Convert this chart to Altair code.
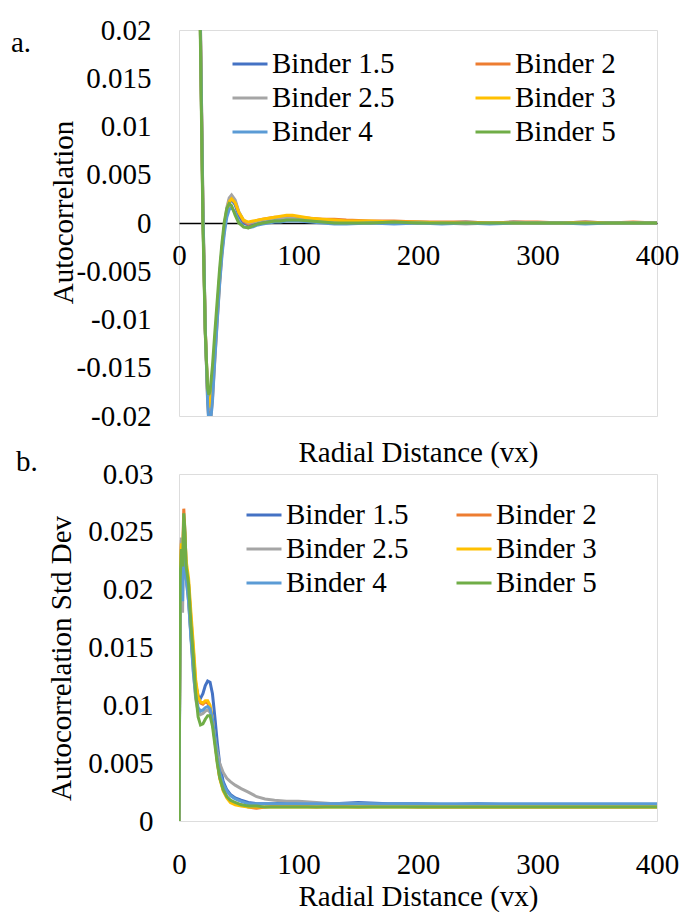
import altair as alt
import pandas as pd

FONT = "'Liberation Serif', 'Times New Roman', Times, 'DejaVu Serif', serif"
FS = 29

series_names = ["Binder 1.5", "Binder 2", "Binder 2.5", "Binder 3", "Binder 4", "Binder 5"]
series_colors = ["#4472C4", "#ED7D31", "#A5A5A5", "#FFC000", "#5B9BD5", "#70AD47"]

# ---------------- panel a: autocorrelation ----------------
x_a = [12, 14, 16, 18, 20, 22, 24, 25, 26, 28, 30, 32, 34, 36, 38, 40, 42, 44, 47, 50,
       54, 58, 62, 66, 70, 75, 80, 85, 90, 95, 100, 110, 120, 130, 140, 160, 180, 200, 220, 240,
       260, 280, 300, 320, 340, 360, 380, 400]

a_b15 = [0.08, 0.056, 0.037, 0.019, 0.001, -0.011, -0.0178, -0.0188, -0.0185, -0.0160, -0.0125, -0.0090, -0.0055, -0.0026, -0.0004, 0.0012, 0.0021, 0.0024, 0.0019, 0.0008,
         0.0000, -0.0002, -0.0001, 0.0001, 0.0002, 0.0003, 0.0004, 0.0004, 0.0005, 0.0005, 0.0005, 0.0004, 0.0003, 0.0002, 0.0002, 0.0001, 0.0001, 0.0001, 0.0000, 0.0001,
         0.0000, 0.0001, 0.0000, 0.0000, 0.0001, 0.0000, 0.0000, 0.0000]
a_b2 = [0.08, 0.057, 0.038, 0.020, 0.002, -0.011, -0.0185, -0.0205, -0.0210, -0.0182, -0.0140, -0.0100, -0.0062, -0.0030, -0.0006, 0.0013, 0.0024, 0.0027, 0.0022, 0.0011,
        0.0002, -0.0001, 0.0001, 0.0003, 0.0004, 0.0005, 0.0006, 0.0006, 0.0007, 0.0006, 0.0006, 0.0005, 0.0004, 0.0004, 0.0003, 0.0002, 0.0002, 0.0001, 0.0001, 0.0001,
        0.0000, 0.0001, 0.0001, 0.0000, 0.0001, 0.0000, 0.0001, 0.0000]
a_b25 = [0.08, 0.056, 0.037, 0.019, 0.001, -0.0115, -0.0180, -0.0193, -0.0192, -0.0168, -0.0130, -0.0093, -0.0057, -0.0027, -0.0003, 0.0016, 0.0026, 0.0029, 0.0024, 0.0012,
         0.0003, 0.0000, 0.0001, 0.0002, 0.0003, 0.0004, 0.0005, 0.0005, 0.0005, 0.0005, 0.0004, 0.0003, 0.0002, 0.0001, 0.0000, 0.0001, 0.0000, 0.0000, 0.0000, -0.0001,
         0.0000, 0.0000, 0.0000, 0.0000, 0.0000, 0.0000, 0.0000, 0.0000]
a_b3 = [0.08, 0.056, 0.037, 0.019, 0.001, -0.011, -0.0178, -0.0190, -0.0190, -0.0165, -0.0128, -0.0092, -0.0057, -0.0027, -0.0004, 0.0013, 0.0022, 0.0025, 0.0021, 0.0011,
        0.0003, 0.0001, 0.0002, 0.0003, 0.0004, 0.0005, 0.0006, 0.0007, 0.0008, 0.0008, 0.0007, 0.0005, 0.0004, 0.0003, 0.0002, 0.0002, 0.0001, 0.0001, 0.0000, 0.0000,
        0.0000, 0.0000, 0.0000, 0.0000, 0.0000, 0.0000, 0.0000, 0.0000]
a_b4 = [0.08, 0.057, 0.038, 0.020, 0.002, -0.011, -0.0188, -0.0208, -0.0212, -0.0185, -0.0142, -0.0102, -0.0064, -0.0033, -0.0010, 0.0006, 0.0014, 0.0016, 0.0011, 0.0002,
        -0.0004, -0.0005, -0.0004, -0.0002, -0.0001, 0.0000, 0.0001, 0.0001, 0.0002, 0.0002, 0.0002, 0.0001, 0.0000, -0.0001, -0.0001, 0.0000, -0.0001, 0.0000, -0.0001, 0.0000,
        -0.0001, 0.0000, 0.0000, 0.0000, -0.0001, 0.0000, 0.0000, 0.0000]
a_b5 = [0.08, 0.055, 0.036, 0.018, 0.000, -0.0115, -0.0172, -0.0178, -0.0174, -0.0148, -0.0113, -0.0080, -0.0047, -0.0020, 0.0002, 0.0015, 0.0020, 0.0018, 0.0008, 0.0000,
        -0.0004, -0.0005, -0.0003, -0.0001, 0.0000, 0.0001, 0.0002, 0.0002, 0.0003, 0.0003, 0.0003, 0.0002, 0.0001, 0.0000, 0.0000, 0.0000, 0.0001, 0.0000, 0.0000, 0.0000,
        0.0000, 0.0000, 0.0000, 0.0000, 0.0000, 0.0000, 0.0000, 0.0000]

# ---------------- panel b: autocorrelation std dev ----------------
x_b = [0, 1, 2, 3, 4, 5, 6, 8, 10, 12, 14, 16, 18, 20, 22, 24, 26, 28, 30, 32,
       34, 37, 40, 43, 47, 52, 58, 65, 72, 80, 90, 100, 115, 130, 150, 175, 200, 225, 250, 275,
       300, 325, 350, 375, 400]

b_b15 = [0.0, 0.020, 0.023, 0.021, 0.025, 0.0235, 0.021, 0.0195, 0.016, 0.0135, 0.0118, 0.0108, 0.0106, 0.0110, 0.0117, 0.0121, 0.0120, 0.0110, 0.0090, 0.0068,
         0.0050, 0.0034, 0.0027, 0.0023, 0.0020, 0.0018, 0.0016, 0.0015, 0.0015, 0.0015, 0.0016, 0.0015, 0.0015, 0.0015, 0.0016, 0.0015, 0.0015, 0.0014, 0.0015, 0.0014,
         0.0014, 0.0014, 0.0014, 0.0014, 0.0014]
b_b2 = [0.0, 0.022, 0.0243, 0.023, 0.027, 0.025, 0.022, 0.0205, 0.0175, 0.0148, 0.0118, 0.0105, 0.0102, 0.0101, 0.0103, 0.0102, 0.0098, 0.0088, 0.0070, 0.0052,
        0.0038, 0.0027, 0.0021, 0.0017, 0.0015, 0.0014, 0.0012, 0.0011, 0.0012, 0.0013, 0.0013, 0.0013, 0.0012, 0.0013, 0.0012, 0.0013, 0.0012, 0.0012, 0.0012, 0.0012,
        0.0012, 0.0012, 0.0012, 0.0012, 0.0012]
b_b25 = [0.0, 0.020, 0.0245, 0.018, 0.0255, 0.024, 0.021, 0.019, 0.016, 0.013, 0.0105, 0.0095, 0.0092, 0.0093, 0.0095, 0.0096, 0.0094, 0.0085, 0.0072, 0.0060,
         0.0050, 0.0042, 0.0037, 0.0034, 0.0031, 0.0028, 0.0025, 0.0021, 0.0019, 0.0018, 0.0017, 0.0017, 0.0016, 0.0015, 0.0015, 0.0014, 0.0014, 0.0014, 0.0014, 0.0014,
         0.0014, 0.0014, 0.0014, 0.0014, 0.0014]
b_b3 = [0.0, 0.021, 0.024, 0.0225, 0.026, 0.0245, 0.0225, 0.021, 0.018, 0.0152, 0.0122, 0.0107, 0.0103, 0.0102, 0.0104, 0.0104, 0.0100, 0.0088, 0.0070, 0.0052,
        0.0037, 0.0026, 0.0020, 0.0016, 0.0014, 0.0013, 0.0012, 0.0012, 0.0012, 0.0012, 0.0012, 0.0012, 0.0012, 0.0012, 0.0012, 0.0012, 0.0012, 0.0012, 0.0012, 0.0012,
        0.0012, 0.0012, 0.0012, 0.0012, 0.0012]
b_b4 = [0.0, 0.019, 0.022, 0.019, 0.025, 0.0235, 0.021, 0.019, 0.0158, 0.0128, 0.0108, 0.0098, 0.0095, 0.0096, 0.0098, 0.0099, 0.0097, 0.0088, 0.0072, 0.0055,
        0.0042, 0.0032, 0.0026, 0.0022, 0.0019, 0.0017, 0.0015, 0.0015, 0.0015, 0.0015, 0.0015, 0.0015, 0.0015, 0.0015, 0.0015, 0.0015, 0.0015, 0.0015, 0.0015, 0.0015,
        0.0015, 0.0015, 0.0015, 0.0015, 0.0015]
b_b5 = [0.0, 0.021, 0.0235, 0.022, 0.0266, 0.025, 0.022, 0.0205, 0.017, 0.0142, 0.0110, 0.0090, 0.0083, 0.0084, 0.0088, 0.0091, 0.0091, 0.0082, 0.0066, 0.0050,
        0.0038, 0.0027, 0.0021, 0.0018, 0.0016, 0.0014, 0.0013, 0.0013, 0.0012, 0.0012, 0.0012, 0.0012, 0.0012, 0.0012, 0.0012, 0.0012, 0.0012, 0.0012, 0.0012, 0.0012,
        0.0012, 0.0012, 0.0012, 0.0012, 0.0012]

a_ticks_y = [0.02, 0.015, 0.01, 0.005, 0, -0.005, -0.01, -0.015, -0.02]
b_ticks_y = [0.03, 0.025, 0.02, 0.015, 0.01, 0.005, 0]
x_ticks = [0, 100, 200, 300, 400]


def long_df(xs, series):
    rows = []
    for i, (name, vals) in enumerate(zip(series_names, series)):
        for x, v in zip(xs, vals):
            rows.append({"x": x, "y": v, "series": name, "k": i})
    return pd.DataFrame(rows)


df_a = long_df(x_a, [a_b15, a_b2, a_b25, a_b3, a_b4, a_b5])
df_b = long_df(x_b, [b_b15, b_b2, b_b25, b_b3, b_b4, b_b5])

color_scale = alt.Scale(domain=series_names, range=series_colors)


def legend(lx, ly, colpad, rowpad):
    return alt.Legend(title=None, orient="none", legendX=lx, legendY=ly, columns=2,
                      direction="horizontal",
                      symbolType="stroke", symbolSize=1225, symbolStrokeWidth=3,
                      labelFontSize=FS, labelFont=FONT, labelColor="black", labelOffset=3,
                      columnPadding=colpad, rowPadding=rowpad, padding=0, labelLimit=300)


common_y = dict(domain=False, ticks=False, grid=False, labelFont=FONT, labelFontSize=FS,
                labelColor="black", labelOverlap=False, titleFont=FONT, titleFontSize=FS,
                titleFontWeight="normal", titleColor="black", titleAngle=-90,
                titleAlign="center", titleBaseline="middle",
                labelExpr="'' + datum.value")

common_x = dict(ticks=False, grid=False, labelFont=FONT, labelFontSize=FS, labelColor="black",
                labelFlush=False, labelOverlap=False, titleFont=FONT, titleFontSize=FS,
                titleFontWeight="normal", titleColor="black", values=x_ticks)

chart_a = alt.Chart(df_a).mark_line(strokeWidth=3, clip=True).encode(
    x=alt.X("x:Q", scale=alt.Scale(domain=[0, 400], nice=False),
            axis=alt.Axis(title="Radial Distance (vx)", offset=-193, domain=True,
                          domainColor="black", domainWidth=1.3, labelPadding=18,
                          titleY=229, titleBaseline="middle", **common_x)),
    y=alt.Y("y:Q", scale=alt.Scale(domain=[-0.02, 0.02], nice=False),
            axis=alt.Axis(title="Autocorrelation", values=a_ticks_y, labelPadding=28,
                          titleX=-116, titleY=182, **common_y)),
    color=alt.Color("series:N", scale=color_scale, legend=legend(52, 15, 74, -3)),
    order=alt.Order("k:Q"),
).properties(
    width=478, height=386,
    title=alt.TitleParams("a.", anchor="start", frame="group", font=FONT, fontSize=FS,
                          fontWeight="normal", color="black", dx=-168, dy=42, offset=0),
)

chart_b = alt.Chart(df_b).mark_line(strokeWidth=3, clip=True).encode(
    x=alt.X("x:Q", scale=alt.Scale(domain=[0, 400], nice=False),
            axis=alt.Axis(title="Radial Distance (vx)", domain=False, labelPadding=29,
                          titlePadding=3, **common_x)),
    y=alt.Y("y:Q", scale=alt.Scale(domain=[0, 0.03], nice=False),
            axis=alt.Axis(title="Autocorrelation Std Dev", values=b_ticks_y, labelPadding=26,
                          titleX=-118, titleY=184, **common_y)),
    color=alt.Color("series:N", scale=color_scale, legend=legend(66, 22, 41, -3)),
    order=alt.Order("k:Q"),
).properties(
    width=478, height=347,
    title=alt.TitleParams("b.", anchor="start", frame="group", font=FONT, fontSize=FS,
                          fontWeight="normal", color="black", dx=-163, dy=17, offset=0),
)

chart = alt.vconcat(chart_a, chart_b, spacing=-21).resolve_scale(color="independent").configure_view(
    stroke="black", strokeWidth=1.3
).configure(
    padding={"left": 10, "top": 15, "right": 0, "bottom": 0}, background="white", font=FONT,
    style={"guide-label": {"font": FONT, "fill": "black"},
           "guide-title": {"font": FONT, "fill": "black"},
           "group-title": {"font": FONT}},
).configure_axis(
    labelFont=FONT, titleFont=FONT
).configure_legend(
    labelFont=FONT, titleFont=FONT
)

chart.save("out.html", embed_options={"renderer": "svg", "actions": False})
